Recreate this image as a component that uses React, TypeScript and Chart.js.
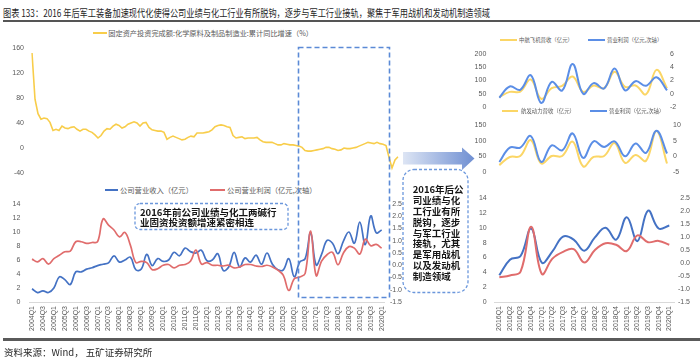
import React, { useEffect, useLayoutEffect, useRef, useState } from 'react';
import { Chart, registerables } from 'chart.js';

Chart.register(...registerables);

// ---------- DATA ----------
// Top-left: fixed-asset investment in chemical raw materials, cumulative YoY (%), sampled through 2004-2020
const fixedInvestGrowth = [
  152, 78, 55, 46, 48, 47, 41, 28, 30, 28,
  35, 32, 31, 33, 34, 30, 27, 30, 30, 27,
  25, 21, 16, 20, 27, 31, 30, 35, 38, 36,
  32, 34, 38, 40, 42, 40, 35, 40, 41, 33,
  29, 28, 27, 27, 25, 14, 17, 19, 17, 15,
  13, 14, 17, 19, 18, 24, 24, 24, 25, 26,
  29, 34, 36, 37, 36, 34, 33, 20, 16, 17,
  18, 15, 16, 16, 16, 17, 13, 10, 9, 9,
  9, 7, 5, 5, 7, 6, 5, 5, 4, 3,
  1, -4, -5, -5, -4, -3, -2, -1, 1, 1,
  -1, -2, -4, -3, 0, -1, -1, 0, 1, 3,
  5, 7, 9, 8, 7, 9, 7, 6, 4, -15,
  -32, -19, -14,
];
const investPeriods = fixedInvestGrowth.map((_, i) => `P${i + 1}`);

// Quarter categories 2004Q1 .. 2020Q1
const quarterLabels: string[] = [];
for (let y = 2004; y <= 2020; y++) {
  for (let q = 1; q <= 4; q++) {
    if (y === 2020 && q > 1) break;
    quarterLabels.push(`${y}Q${q}`);
  }
}

// Company revenue (亿元)
const companyRevenue = [
  1.9, 1.35, 1.6, 1.35, 2.0, 3.6, 3.2, 2.5, 4.3, 4.3, 4.7, 4.9,
  5.2, 5.4, 5.6, 6.6, 5.7, 6.0, 6.4, 4.6, 4.7, 6.8, 5.2, 6.2,
  5.8, 6.0, 7.1, 6.6, 7.7, 7.2, 7.0, 7.4, 5.9, 6.0, 6.9, 4.5,
  5.0, 7.1, 5.0, 6.3, 5.7, 6.7, 5.4, 7.0, 5.4, 4.6, 4.6, 6.2,
  3.6, 5.7, 6.2, 9.9, 5.3, 6.8, 8.8, 8.4, 6.9, 8.7, 10.0, 8.4,
  11.4, 8.2, 12.3, 9.9, 10.3,
];
// Company operating profit (亿元, secondary axis)
const companyProfit = [
  0.25, 0.14, 0.27, 0.05, 0.27, 0.41, 0.55, 0.58, 0.96, 0.96, 0.89, 0.93,
  0.96, 1.89, 1.64, 1.44, 1.16, 1.34, 0.82, 0.11, 0.16, 0.11, -0.18, -0.14,
  0.0, 0.03, -0.11, 0.0, 0.03, 0.16, 0.62, 0.05, 0.11, 0.0, 0.0, -0.03,
  0.0, -0.11, -0.07, 0.03, 0.03, -0.03, -0.05, 0.0, -0.07, -0.2, -0.41, -1.03,
  -0.55, -0.48, -0.33, 1.39, -0.42, 0.17, 0.43, 0.53, 0.02, 0.5, 0.76, 0.7,
  0.46, 1.06, 0.8, 0.85, 0.7,
];
const zoomStart = quarterLabels.indexOf('2016Q1');

// Top-right: AVIC Aircraft
const avicRevenue = [37, 57, 58, 104, 31, 71, 80, 115, 57, 81, 71, 133, 76, 81, 48, 140, 71];
const avicProfit = [-0.6, 1.1, 0.6, 2.8, -1.4, 1.8, 0.5, 4.5, 0.0, 1.6, 0.8, 3.8, 0.5, 1.9, 1.2, 2.5, 0.5];
// Aero Engine
const engineRevenue = [22, 48, 51, 102, 27, 51, 51, 97, 18, 48, 51, 92, 29, 54, 36, 131, 27];
const engineProfit = [-1.8, 2.8, 2.8, 6.5, -1.8, 3.5, 1.9, 7.3, -0.5, 4.8, 3.0, 4.8, 0.0, 4.1, 1.1, 8.2, 0.9];

// ---------- STYLE ----------
const TICK_FONT = { family: "'Liberation Sans', Arial, sans-serif", size: 7 };
const TICK_COLOR = '#595959';
const CJK = "'Noto Sans CJK SC', 'Noto Sans', sans-serif";
const YELLOW = '#f8cd4a';
const YELLOW2 = '#fbd666';
const BLUE = '#4472c4';
const BLUE2 = '#5b8ee6';
const RED = '#e06c6c';

function yAxis(opts: any) {
  const { min, max, step, position, width, padding, align, fmt } = opts;
  return {
    type: 'linear',
    position,
    min,
    max,
    grid: { display: false, drawTicks: false },
    border: { display: false },
    ticks: {
      stepSize: step,
      padding,
      autoSkip: false,
      font: TICK_FONT,
      color: TICK_COLOR,
      crossAlign: align || 'near',
      callback: fmt ? (v: any) => Number(v).toFixed(1) : (v: any) => String(v),
    },
    afterFit: (s: any) => {
      s.width = width;
      s.paddingTop = 0;
      s.paddingBottom = 0;
    },
  };
}

function ChartBox({ left, top, width, height, config }: any) {
  const ref = useRef<HTMLCanvasElement>(null);
  useEffect(() => {
    const chart = new Chart(ref.current as HTMLCanvasElement, config);
    return () => chart.destroy();
  }, []);
  return (
    <canvas
      ref={ref}
      width={width}
      height={height}
      style={{ position: 'absolute', left, top, width, height }}
    />
  );
}

const baseOptions = (padding: any) => ({
  animation: false,
  responsive: false,
  maintainAspectRatio: false,
  layout: { padding },
  plugins: { legend: { display: false }, tooltip: { enabled: false } },
});

const lineDs = (data: number[], color: string, axis: string, width: number, tension: number, order: number) => ({
  data,
  borderColor: color,
  backgroundColor: color,
  borderWidth: width,
  pointRadius: 0,
  tension,
  yAxisID: axis,
  order,
  fill: false,
});

const hiddenX = {
  display: false,
  offset: false,
  afterFit: (s: any) => {
    s.paddingLeft = 0;
    s.paddingRight = 0;
  },
};

const configInvest = {
  type: 'line',
  data: {
    labels: investPeriods,
    datasets: [lineDs(fixedInvestGrowth, YELLOW, 'y', 1.6, 0, 1)],
  },
  options: {
    ...baseOptions({ top: 8, bottom: 8, left: 0, right: 4 }),
    scales: {
      x: hiddenX,
      y: yAxis({ min: -40, max: 160, step: 40, position: 'left', width: 32, padding: 8 }),
    },
  },
};

const quarterXAxis = (every: number) => ({
  type: 'category',
  offset: true,
  grid: { display: false, drawTicks: false },
  border: { display: true, color: '#d9d9d9', width: 1 },
  ticks: {
    autoSkip: false,
    maxRotation: 90,
    minRotation: 90,
    padding: 4,
    font: TICK_FONT,
    color: TICK_COLOR,
    callback: function (this: any, v: any, i: number) {
      return i % every === 0 ? this.getLabelForValue(v) : '';
    },
  },
  afterFit: (s: any) => {
    s.height = 36;
    s.paddingLeft = 0;
    s.paddingRight = 0;
  },
});

const configCompany = {
  type: 'line',
  data: {
    labels: quarterLabels,
    datasets: [
      lineDs(companyRevenue, BLUE, 'y', 1.7, 0.4, 2),
      lineDs(companyProfit, RED, 'y1', 1.7, 0.4, 1),
    ],
  },
  options: {
    ...baseOptions({ top: 8, bottom: 0, left: 0, right: 0 }),
    scales: {
      x: quarterXAxis(2),
      y: yAxis({ min: 0, max: 14, step: 2, position: 'left', width: 29.3, padding: 9 }),
      y1: yAxis({ min: -1.5, max: 2.5, step: 0.5, position: 'right', width: 17.6, padding: 3, align: 'far', fmt: true }),
    },
  },
};

const configZoom = {
  type: 'line',
  data: {
    labels: quarterLabels.slice(zoomStart),
    datasets: [
      lineDs(companyRevenue.slice(zoomStart), BLUE, 'y', 2, 0.4, 2),
      lineDs(companyProfit.slice(zoomStart), RED, 'y1', 2, 0.4, 1),
    ],
  },
  options: {
    ...baseOptions({ top: 8, bottom: 0, left: 0, right: 0 }),
    scales: {
      x: quarterXAxis(1),
      y: yAxis({ min: 0, max: 14, step: 2, position: 'left', width: 34, padding: 7.3 }),
      y1: yAxis({ min: -1.5, max: 2.5, step: 0.5, position: 'right', width: 15.4, padding: 3, align: 'far', fmt: true }),
    },
  },
};

const smallConfig = (rev: number[], prof: number[], ly: any, ry: any, rpad: number) => ({
  type: 'line',
  data: {
    labels: quarterLabels.slice(zoomStart),
    datasets: [lineDs(rev, YELLOW2, 'y', 2, 0.4, 2), lineDs(prof, BLUE2, 'y1', 2, 0.4, 1)],
  },
  options: {
    ...baseOptions({ top: 6, bottom: 6, left: 0, right: 0 }),
    scales: {
      x: hiddenX,
      y: yAxis({ ...ly, position: 'left', width: 39.3, padding: 13 }),
      y1: yAxis({ ...ry, position: 'right', width: 20, padding: rpad }),
    },
  },
});

const configAvic = smallConfig(avicRevenue, avicProfit, { min: 0, max: 200, step: 50 }, { min: -2, max: 6, step: 2 }, 3);
const configEngine = smallConfig(engineRevenue, engineProfit, { min: 0, max: 150, step: 50 }, { min: -5, max: 10, step: 5 }, 6);

// ---------- HTML helpers ----------
function FitText({ text, width, style }: any) {
  const ref = useRef<HTMLSpanElement>(null);
  const [s, setS] = useState(1);
  useLayoutEffect(() => {
    if (ref.current) {
      const w = ref.current.getBoundingClientRect().width;
      if (w > 0) setS(width / w);
    }
  }, []);
  return (
    <span
      ref={ref}
      style={{ ...style, display: 'inline-block', whiteSpace: 'nowrap', transform: `scaleX(${s})`, transformOrigin: '0 0' }}
    >
      {text}
    </span>
  );
}

function Legend({ x1, x2, y, color, text, tx, size }: any) {
  return (
    <>
      <div style={{ position: 'absolute', left: x1, top: y - 1, width: x2 - x1, height: 2, background: color }} />
      <div
        style={{
          position: 'absolute',
          left: tx,
          top: y - 6,
          height: 12,
          lineHeight: '12px',
          fontSize: size,
          fontFamily: CJK,
          color: '#595959',
          whiteSpace: 'nowrap',
        }}
      >
        {text}
      </div>
    </>
  );
}

const leftNote = ['2016年前公司业绩与化工两碱行', '业固资投资额增速紧密相连'];
const rightNote = ['2016年后公', '司业绩与化', '工行业有所', '脱钩，逐步', '与军工行业', '接轨，尤其', '是军用战机', '以及发动机', '制造领域'];

export default function App() {
  return (
    <div
      style={{
        position: 'absolute',
        left: 0,
        top: 0,
        width: 700,
        height: 360,
        background: '#fff',
        overflow: 'hidden',
        fontFamily: CJK,
      }}
    >
      {/* Title */}
      <div style={{ position: 'absolute', left: 3, top: 4, lineHeight: '13px', height: 13 }}>
        <FitText
          text="图表 133：2016 年后军工装备加速现代化使得公司业绩与化工行业有所脱钩，逐步与军工行业接轨，聚焦于军用战机和发动机制造领域"
          width={487}
          style={{ fontSize: 10.5, color: '#1f1f1f', fontFamily: CJK }}
        />
      </div>
      <div style={{ position: 'absolute', left: 3, top: 19.5, width: 697, height: 2, background: '#555' }} />

      {/* Charts */}
      <ChartBox left={0} top={40} width={402} height={141} config={configInvest} />
      <ChartBox left={0} top={196} width={402} height={142} config={configCompany} />
      <ChartBox left={460} top={48} width={227} height={65} config={configAvic} />
      <ChartBox left={460} top={119} width={227} height={59} config={configEngine} />
      <ChartBox left={460} top={190} width={230} height={148} config={configZoom} />

      {/* Legends */}
      <Legend x1={93} x2={107} y={33} color={YELLOW} tx={108.3} size={7.2}
        text="固定资产投资完成额:化学原料及制品制造业:累计同比增速（%）" />
      <Legend x1={105} x2={118} y={190} color={BLUE} tx={120} size={7.3} text="公司营业收入（亿元）" />
      <Legend x1={210} x2={225} y={190} color={RED} tx={227} size={7.3} text="公司营业利润（亿元,次轴）" />
      <Legend x1={500} x2={517} y={40} color={YELLOW2} tx={519} size={5.4} text="中航飞机营收（亿元）" />
      <Legend x1={588} x2={605} y={40} color={BLUE2} tx={607} size={5.4} text="营业利润（亿元,次轴）" />
      <Legend x1={502} x2={518} y={111} color={YELLOW2} tx={521} size={5.4} text="航发动力营收（亿元）" />
      <Legend x1={590} x2={607} y={111} color={BLUE2} tx={609} size={5.4} text="营业利润（亿元,次轴）" />

      {/* Decorations */}
      <svg width={700} height={360} style={{ position: 'absolute', left: 0, top: 0, pointerEvents: 'none' }}>
        <defs>
          <linearGradient id="arrowGrad" x1="0" y1="0" x2="1" y2="0">
            <stop offset="0%" stopColor="#dde5f4" />
            <stop offset="100%" stopColor="#6f8fd2" />
          </linearGradient>
        </defs>
        <rect x={298.5} y={47.5} width={91} height={250} fill="none" stroke="#5b8ad6" strokeWidth={1.6} strokeDasharray="5 3" />
        <rect x={135} y={203.5} width={153} height={26} rx={5} fill="#fff" stroke="#6b97dc" strokeWidth={1.3} strokeDasharray="3 2" />
        <rect x={403} y={169.5} width={65} height={123} rx={11} fill="#fff" stroke="#6b97dc" strokeWidth={1.3} strokeDasharray="3 2" />
        <polygon points="403,152 462,152 462,147.5 474.5,158.5 462,170 462,164.5 403,164.5" fill="url(#arrowGrad)" />
      </svg>

      {/* Notes */}
      <div
        style={{
          position: 'absolute', left: 140, top: 206.7, fontSize: 9.5, lineHeight: '10px',
          fontWeight: 700, color: '#161616', fontFamily: CJK, whiteSpace: 'nowrap',
        }}
      >
        {leftNote.map((l, i) => <div key={i}>{l}</div>)}
      </div>
      <div
        style={{
          position: 'absolute', left: 412.7, top: 183.9, fontSize: 9.5, lineHeight: '10.9px',
          fontWeight: 700, color: '#161616', fontFamily: CJK, whiteSpace: 'nowrap',
        }}
      >
        {rightNote.map((l, i) => <div key={i}>{l}</div>)}
      </div>

      {/* Footer */}
      <div style={{ position: 'absolute', left: 3, top: 338, width: 697, height: 2.5, background: '#5a5a5a' }} />
      <div
        style={{
          position: 'absolute', left: 4, top: 346, fontSize: 9.5, lineHeight: '12px',
          color: '#2a2a2a', fontFamily: CJK, whiteSpace: 'nowrap',
        }}
      >
        资料来源：Wind， 五矿证券研究所
      </div>
    </div>
  );
}
